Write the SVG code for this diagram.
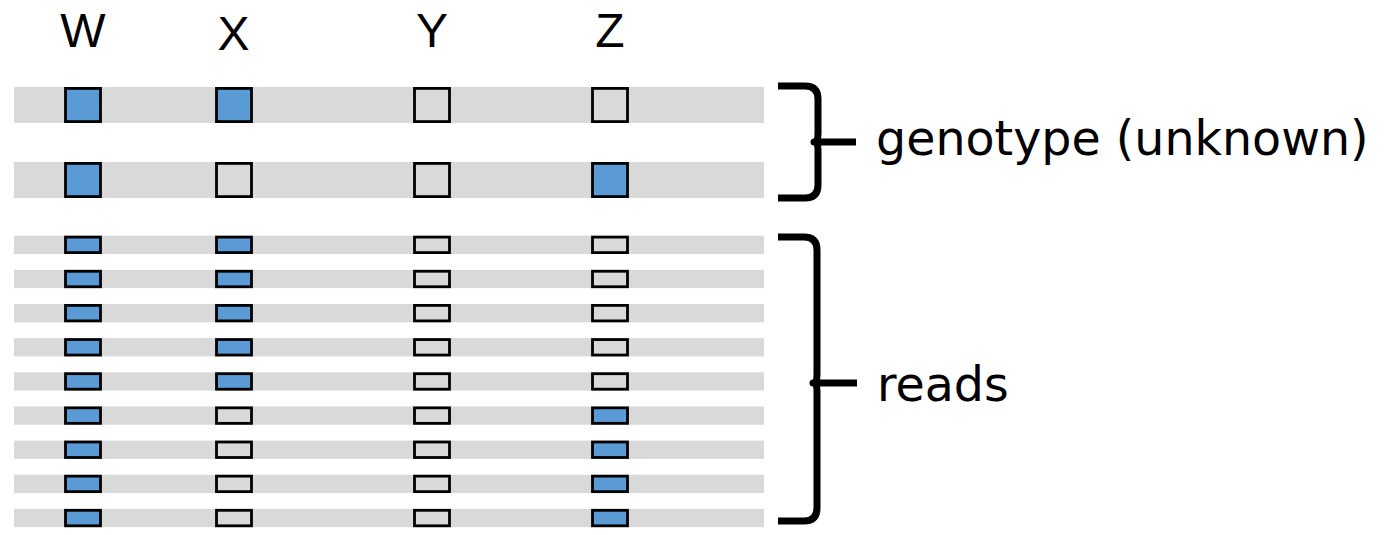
<svg xmlns="http://www.w3.org/2000/svg" width="1386" height="535" viewBox="0 0 1386 535">
<style>
.bar{fill:#D9D9D9}
.b{fill:#5B9BD5;stroke:#000;stroke-width:2.8}
.g{fill:#D9D9D9;stroke:#000;stroke-width:2.8}
.lbl{font-family:"Liberation Sans",Arial,sans-serif;font-size:48px;fill:#000;text-anchor:middle}
.txt{font-family:"DejaVu Sans",Verdana,sans-serif;font-size:47.5px;fill:#000}
.br{fill:none;stroke:#000;stroke-width:7;stroke-linejoin:round}
</style>
<rect width="1386" height="535" fill="#fff"/>
<g id="labels">
<text class="lbl" x="83" y="47">W</text>
<text class="lbl" x="233.5" y="50">X</text>
<text class="lbl" x="432" y="47">Y</text>
<text class="lbl" x="610" y="47">Z</text>
</g>
<g id="genotype">
<rect class="bar" x="14" y="87" width="750" height="36"/>
<rect class="b" x="65.5" y="88.4" width="35" height="33.2"/>
<rect class="b" x="216.5" y="88.4" width="35" height="33.2"/>
<rect class="g" x="414.5" y="88.4" width="35" height="33.2"/>
<rect class="g" x="592.5" y="88.4" width="35" height="33.2"/>
<rect class="bar" x="14" y="162" width="750" height="36"/>
<rect class="b" x="65.5" y="163.4" width="35" height="33.2"/>
<rect class="g" x="216.5" y="163.4" width="35" height="33.2"/>
<rect class="g" x="414.5" y="163.4" width="35" height="33.2"/>
<rect class="b" x="592.5" y="163.4" width="35" height="33.2"/>
</g>
<g id="reads">
<g transform="translate(0,235.7)"><rect class="bar" x="14" y="0" width="750" height="18.3"/><rect class="b" x="65.5" y="1.4" width="35" height="15.5"/><rect class="b" x="216.5" y="1.4" width="35" height="15.5"/><rect class="g" x="414.5" y="1.4" width="35" height="15.5"/><rect class="g" x="592.5" y="1.4" width="35" height="15.5"/></g>
<g transform="translate(0,269.85)"><rect class="bar" x="14" y="0" width="750" height="18.3"/><rect class="b" x="65.5" y="1.4" width="35" height="15.5"/><rect class="b" x="216.5" y="1.4" width="35" height="15.5"/><rect class="g" x="414.5" y="1.4" width="35" height="15.5"/><rect class="g" x="592.5" y="1.4" width="35" height="15.5"/></g>
<g transform="translate(0,304)"><rect class="bar" x="14" y="0" width="750" height="18.3"/><rect class="b" x="65.5" y="1.4" width="35" height="15.5"/><rect class="b" x="216.5" y="1.4" width="35" height="15.5"/><rect class="g" x="414.5" y="1.4" width="35" height="15.5"/><rect class="g" x="592.5" y="1.4" width="35" height="15.5"/></g>
<g transform="translate(0,338.15)"><rect class="bar" x="14" y="0" width="750" height="18.3"/><rect class="b" x="65.5" y="1.4" width="35" height="15.5"/><rect class="b" x="216.5" y="1.4" width="35" height="15.5"/><rect class="g" x="414.5" y="1.4" width="35" height="15.5"/><rect class="g" x="592.5" y="1.4" width="35" height="15.5"/></g>
<g transform="translate(0,372.3)"><rect class="bar" x="14" y="0" width="750" height="18.3"/><rect class="b" x="65.5" y="1.4" width="35" height="15.5"/><rect class="b" x="216.5" y="1.4" width="35" height="15.5"/><rect class="g" x="414.5" y="1.4" width="35" height="15.5"/><rect class="g" x="592.5" y="1.4" width="35" height="15.5"/></g>
<g transform="translate(0,406.45)"><rect class="bar" x="14" y="0" width="750" height="18.3"/><rect class="b" x="65.5" y="1.4" width="35" height="15.5"/><rect class="g" x="216.5" y="1.4" width="35" height="15.5"/><rect class="g" x="414.5" y="1.4" width="35" height="15.5"/><rect class="b" x="592.5" y="1.4" width="35" height="15.5"/></g>
<g transform="translate(0,440.6)"><rect class="bar" x="14" y="0" width="750" height="18.3"/><rect class="b" x="65.5" y="1.4" width="35" height="15.5"/><rect class="g" x="216.5" y="1.4" width="35" height="15.5"/><rect class="g" x="414.5" y="1.4" width="35" height="15.5"/><rect class="b" x="592.5" y="1.4" width="35" height="15.5"/></g>
<g transform="translate(0,474.75)"><rect class="bar" x="14" y="0" width="750" height="18.3"/><rect class="b" x="65.5" y="1.4" width="35" height="15.5"/><rect class="g" x="216.5" y="1.4" width="35" height="15.5"/><rect class="g" x="414.5" y="1.4" width="35" height="15.5"/><rect class="b" x="592.5" y="1.4" width="35" height="15.5"/></g>
<g transform="translate(0,508.9)"><rect class="bar" x="14" y="0" width="750" height="18.3"/><rect class="b" x="65.5" y="1.4" width="35" height="15.5"/><rect class="g" x="216.5" y="1.4" width="35" height="15.5"/><rect class="g" x="414.5" y="1.4" width="35" height="15.5"/><rect class="b" x="592.5" y="1.4" width="35" height="15.5"/></g>
</g>
<g id="brace-genotype">
<path class="br" d="M778,86 H805 Q818,86 818,99 V134 Q818,142 814,142 Q818,142 818,150 V185 Q818,198 805,198 H778"/>
<path class="br" d="M815,142 H856"/>
<text class="txt" x="876" y="155">genotype (unknown)</text>
</g>
<g id="brace-reads">
<path class="br" d="M778,237 H804 Q817,237 817,250 V375 Q817,383 813,383 Q817,383 817,391 V508 Q817,521 804,521 H778"/>
<path class="br" d="M814,383 H857"/>
<text class="txt" x="877" y="401">reads</text>
</g>
</svg>
